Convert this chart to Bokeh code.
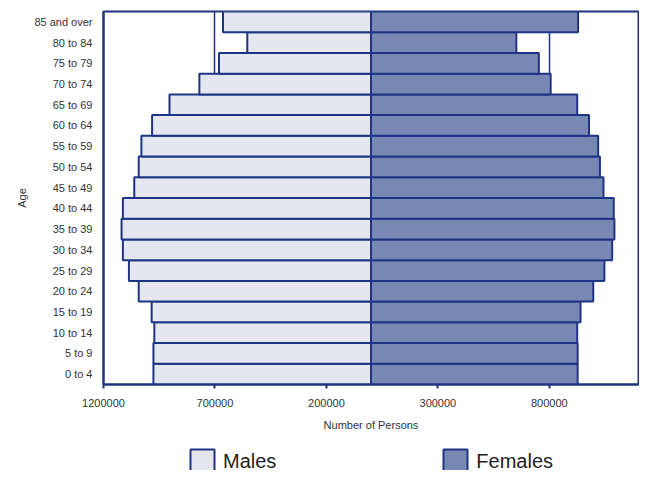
from bokeh.plotting import figure
from bokeh.models import (ColumnDataSource, FixedTicker, CustomJSTickFormatter,
                          Legend, LegendItem)
from bokeh.layouts import column
from bokeh.embed import file_html
from bokeh.resources import INLINE

age_groups = ["0 to 4", "5 to 9", "10 to 14", "15 to 19", "20 to 24", "25 to 29",
              "30 to 34", "35 to 39", "40 to 44", "45 to 49", "50 to 54", "55 to 59",
              "60 to 64", "65 to 69", "70 to 74", "75 to 79", "80 to 84", "85 and over"]
males = [976000, 976000, 972000, 984000, 1042000, 1086000, 1113000, 1119000, 1113000,
         1062000, 1042000, 1030000, 982000, 904000, 770000, 682000, 555000, 664000]
females = [927000, 927000, 925000, 940000, 997000, 1047000, 1082000, 1092000, 1089000,
           1043000, 1027000, 1019000, 978000, 925000, 806000, 753000, 652000, 929000]
x_ticks = [-1200000, -700000, -200000, 300000, 800000]
series_names = ["Males", "Females"]

NAVY = "#1f3584"
TEXT = "#333333"
FONT = "Liberation Sans"
M_FILL = "#e4e6f0"
F_FILL = "#7888b4"

src = ColumnDataSource(dict(
    age=age_groups,
    m_left=[-v for v in males],
    f_right=females,
    zero=[0] * len(age_groups),
))

p = figure(width=639, height=437, y_range=age_groups,
           x_range=(-1200000, 1200000),
           output_backend="svg", toolbar_location=None,
           min_border_left=103, min_border_right=1, min_border_top=11, min_border_bottom=53)

p.hbar(y="age", left="m_left", right="zero", height=1.0, source=src,
       fill_color=M_FILL, line_color=NAVY, line_width=2)
p.hbar(y="age", left="zero", right="f_right", height=1.0, source=src,
       fill_color=F_FILL, line_color=NAVY, line_width=2)

p.outline_line_color = NAVY
p.outline_line_width = 2
p.outline_line_alpha = 1.0
p.background_fill_color = "white"
p.border_fill_color = "white"

p.xaxis.ticker = FixedTicker(ticks=x_ticks)
p.xaxis.formatter = CustomJSTickFormatter(code="return Math.abs(tick).toString();")
p.xaxis.axis_label = "Number of Persons"
p.xaxis.axis_line_color = NAVY
p.xaxis.axis_line_width = 2
p.xaxis.major_tick_line_color = NAVY
p.xaxis.major_tick_line_width = 2
p.xaxis.major_tick_out = 4
p.xaxis.major_tick_in = 0
p.xaxis.minor_tick_line_color = None
p.xaxis.major_label_standoff = 10
p.xaxis.axis_label_standoff = 9

p.yaxis.axis_label = "Age"
p.yaxis.axis_line_color = NAVY
p.yaxis.axis_line_width = 2
p.yaxis.major_tick_line_color = None
p.yaxis.major_tick_out = 0
p.yaxis.major_tick_in = 0
p.yaxis.minor_tick_line_color = None
p.yaxis.major_label_standoff = 11
p.yaxis.axis_label_standoff = 3

for ax in (p.xaxis, p.yaxis):
    ax.major_label_text_font = FONT
    ax.major_label_text_font_size = "11px"
    ax.major_label_text_color = TEXT
    ax.axis_label_text_font = FONT
    ax.axis_label_text_font_size = "11px"
    ax.axis_label_text_font_style = "normal"
    ax.axis_label_text_color = TEXT

p.ygrid.grid_line_color = None
p.xgrid.ticker = FixedTicker(ticks=x_ticks)
p.xgrid.grid_line_color = NAVY
p.xgrid.grid_line_width = 1.5

# legend strip below the chart (its frame is aligned with the chart's frame)
lg = figure(width=639, height=33, output_backend="svg", toolbar_location=None,
            y_range=age_groups, x_range=(-1200000, 1200000),
            x_axis_type=None, y_axis_type=None,
            min_border_left=0, min_border_right=0, min_border_top=0, min_border_bottom=0)
lg.outline_line_color = None
lg.grid.grid_line_color = None
lm = lg.hbar(y="age", left="m_left", right="zero", height=1.0, source=src,
             fill_color=M_FILL, line_color=NAVY, line_width=2, visible=False)
lf = lg.hbar(y="age", left="zero", right="f_right", height=1.0, source=src,
             fill_color=F_FILL, line_color=NAVY, line_width=2, visible=False)
legend = Legend(items=[LegendItem(label=series_names[0], renderers=[lm]),
                       LegendItem(label=series_names[1], renderers=[lf])],
                orientation="horizontal", location=(84, -6),
                glyph_width=30, glyph_height=30, label_standoff=6, spacing=164,
                label_text_font=FONT, label_text_font_size="20px",
                label_text_color="#222222", border_line_color=None,
                padding=0, margin=0, inactive_fill_alpha=0)
legend.background_fill_alpha = 0
lg.add_layout(legend)

layout = column(p, lg, spacing=0)
open("out.html", "w").write(file_html(layout, INLINE))
